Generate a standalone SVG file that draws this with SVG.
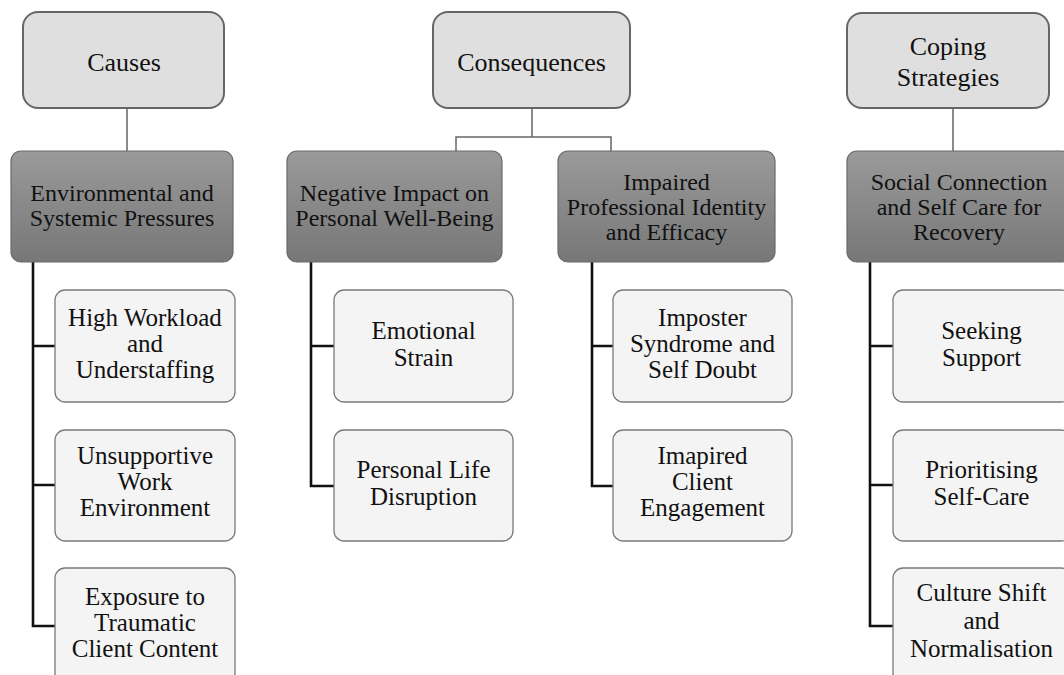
<svg xmlns="http://www.w3.org/2000/svg" width="1064" height="675" viewBox="0 0 1064 675">
<defs>
<linearGradient id="dk" x1="0" y1="0" x2="0" y2="1">
<stop offset="0" stop-color="#9a9a9a"/>
<stop offset="1" stop-color="#777777"/>
</linearGradient>
<style>
text{font-family:"Liberation Serif","Times New Roman",serif;fill:#111;text-anchor:middle}
.top rect{fill:#dfdfdf;stroke:#666;stroke-width:2}
.top text{font-size:26px}
.mid rect{fill:url(#dk);stroke:#6a6a6a;stroke-width:1.2}
.mid text{font-size:24px}
.leaf rect{fill:#f4f4f4;stroke:#7a7a7a;stroke-width:1.3}
.leaf text{font-size:25px}
.thin{fill:none;stroke:#666;stroke-width:1.5}
.thick{fill:none;stroke:#111;stroke-width:2.6;stroke-linejoin:miter}
</style>
</defs>
<rect width="1064" height="675" fill="#fff"/>
<g id="connectors">
<path class="thin" d="M127 108V151"/>
<path class="thin" d="M532 108V137M456 151V137H611V151"/>
<path class="thin" d="M953 108V151"/>
<path class="thick" d="M33 262V626H55M33 346H55M33 485H55"/>
<path class="thick" d="M311 262V486H334M311 346H334"/>
<path class="thick" d="M592 262V486H613M592 346H613"/>
<path class="thick" d="M870 262V626H893M870 346H893M870 485H893"/>
</g>
<g id="causes" class="top"><rect x="23" y="12" width="201" height="96" rx="15"/><text x="124" y="71">Causes</text></g>
<g id="consequences" class="top"><rect x="433" y="12" width="197" height="96" rx="15"/><text x="531.5" y="71">Consequences</text></g>
<g id="coping" class="top"><rect x="847" y="13" width="202" height="95" rx="15"/><text x="948" y="55">Coping</text><text x="948" y="86">Strategies</text></g>
<g id="env" class="mid"><rect x="11" y="151" width="222" height="111" rx="10"/><text x="122" y="201">Environmental and</text><text x="122" y="226">Systemic Pressures</text></g>
<g id="neg" class="mid"><rect x="287" y="151" width="215" height="111" rx="10"/><text x="394.5" y="201">Negative Impact on</text><text x="394.5" y="226">Personal Well-Being</text></g>
<g id="imp" class="mid"><rect x="558" y="151" width="217" height="111" rx="10"/><text x="666.5" y="190">Impaired</text><text x="666.5" y="215">Professional Identity</text><text x="666.5" y="240">and Efficacy</text></g>
<g id="soc" class="mid"><rect x="847" y="151" width="224" height="111" rx="10"/><text x="959" y="190">Social Connection</text><text x="959" y="215">and Self Care for</text><text x="959" y="240">Recovery</text></g>
<g id="workload" class="leaf"><rect x="55" y="290" width="180" height="112" rx="10"/><text x="145" y="326">High Workload</text><text x="145" y="352">and</text><text x="145" y="378">Understaffing</text></g>
<g id="unsupportive" class="leaf"><rect x="55" y="430" width="180" height="111" rx="10"/><text x="145" y="464">Unsupportive</text><text x="145" y="490">Work</text><text x="145" y="516">Environment</text></g>
<g id="exposure" class="leaf"><rect x="55" y="568" width="180" height="116" rx="10"/><text x="145" y="605">Exposure to</text><text x="145" y="631">Traumatic</text><text x="145" y="657">Client Content</text></g>
<g id="emotional" class="leaf"><rect x="334" y="290" width="179" height="112" rx="10"/><text x="423.5" y="339">Emotional</text><text x="423.5" y="366">Strain</text></g>
<g id="personal" class="leaf"><rect x="334" y="430" width="179" height="111" rx="10"/><text x="423.5" y="478">Personal Life</text><text x="423.5" y="505">Disruption</text></g>
<g id="imposter" class="leaf"><rect x="613" y="290" width="179" height="112" rx="10"/><text x="702.5" y="326">Imposter</text><text x="702.5" y="352">Syndrome and</text><text x="702.5" y="378">Self Doubt</text></g>
<g id="client" class="leaf"><rect x="613" y="430" width="179" height="111" rx="10"/><text x="702.5" y="464">Imapired</text><text x="702.5" y="490">Client</text><text x="702.5" y="516">Engagement</text></g>
<g id="seeking" class="leaf"><rect x="893" y="290" width="178" height="112" rx="10"/><text x="981.5" y="339">Seeking</text><text x="981.5" y="366">Support</text></g>
<g id="selfcare" class="leaf"><rect x="893" y="430" width="178" height="111" rx="10"/><text x="981.5" y="478">Prioritising</text><text x="981.5" y="505">Self-Care</text></g>
<g id="culture" class="leaf"><rect x="893" y="568" width="178" height="116" rx="10"/><text x="981.5" y="601">Culture Shift</text><text x="981.5" y="629">and</text><text x="981.5" y="657">Normalisation</text></g>
</svg>
